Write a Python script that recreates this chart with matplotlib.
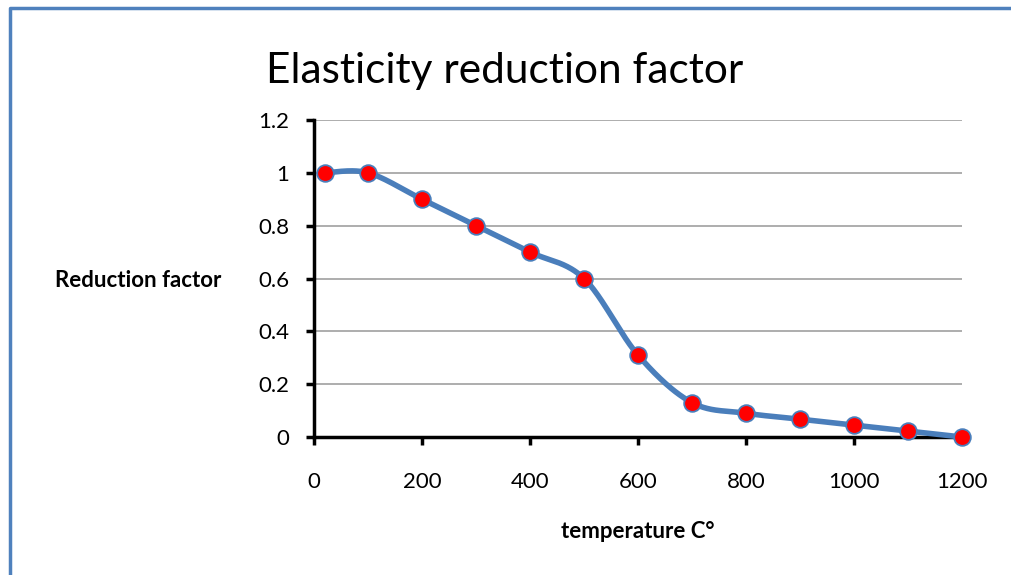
import matplotlib
matplotlib.use('Agg')
import matplotlib.pyplot as plt
import numpy as np

plt.rcParams['font.family'] = ['Lato', 'DejaVu Sans']

# data
temperature = [20, 100, 200, 300, 400, 500, 600, 700, 800, 900, 1000, 1100, 1200]
reduction = [1.0, 1.0, 0.9, 0.8, 0.7, 0.6, 0.31, 0.13, 0.09, 0.0675, 0.045, 0.0225, 0.0]
x_ticks = [0, 200, 400, 600, 800, 1000, 1200]
y_ticks = [0, 0.2, 0.4, 0.6, 0.8, 1.0, 1.2]
y_tick_labels = ['0', '0.2', '0.4', '0.6', '0.8', '1', '1.2']

LINE_BLUE = '#4A7EBB'
FRAME_BLUE = '#4F81BD'


# -----------------------------------------------------------------------------
# Excel-like smoothed line (Catmull-Rom through the points, in screen-ish units)
# -----------------------------------------------------------------------------
def smooth(xs, ys, sx, sy, n=40):
    p = np.column_stack([np.asarray(xs) / sx, np.asarray(ys) / sy])
    p = np.vstack([p[0], p, p[-1]])
    out = []
    for i in range(1, len(p) - 2):
        p0, p1, p2, p3 = p[i - 1], p[i], p[i + 1], p[i + 2]
        c1 = p1 + (p2 - p0) / 6.
        c2 = p2 - (p3 - p1) / 6.
        t = np.linspace(0, 1, n)[:, None]
        seg = ((1 - t) ** 3) * p1 + 3 * ((1 - t) ** 2) * t * c1 + 3 * (1 - t) * t ** 2 * c2 + t ** 3 * p2
        out.append(seg)
    out = np.vstack(out)
    return out[:, 0] * sx, out[:, 1] * sy


fig = plt.figure(figsize=(10.12, 5.75), dpi=100)
ax = fig.add_axes([0.3103, 0.2400, 0.6403, 0.5513])

# pixel scale of the axes: 648 px for 1200, 317 px for 1.2
sx, sy = 1200 / 648., 1.2 / 317.
xs, ys = smooth(temperature, reduction, sx, sy)
ax.plot(xs, ys, color=LINE_BLUE, lw=4, solid_capstyle='round', zorder=3, clip_on=False)
ax.plot(temperature, reduction, ls='none', marker='o', ms=12, mfc='#FF0000',
        mec=LINE_BLUE, mew=1.3, zorder=4, clip_on=False)

ax.set_xlim(0, 1200)
ax.set_ylim(0, 1.2)
ax.set_xticks(x_ticks)
ax.set_yticks(y_ticks)
ax.set_yticklabels(y_tick_labels)
ax.yaxis.grid(True, color='#A0A0A0', lw=1.2)
ax.set_axisbelow(True)
for s in ['top', 'right']:
    ax.spines[s].set_visible(False)
for s in ['left', 'bottom']:
    ax.spines[s].set_linewidth(2.5)
ax.tick_params(axis='both', direction='out', length=6, width=2.5, labelsize=16)
ax.tick_params(axis='x', pad=19)
ax.tick_params(axis='y', pad=12)

fig.text(0.4985, 0.8557, 'Elasticity reduction factor', ha='center', va='baseline', fontsize=30.5)
fig.text(0.137, 0.513, 'Reduction factor', ha='center', va='center', fontsize=16, fontweight='bold')
fig.text(0.630, 0.075, 'temperature C°', ha='center', va='center', fontsize=16, fontweight='bold')

# chart frame (only left/top edges show in the crop)
fig.add_artist(plt.Line2D([0.0095, 0.0095, 1.0], [0.0, 0.9855, 0.9855],
                          transform=fig.transFigure, color=FRAME_BLUE, lw=2.5))

fig.savefig('out.png', dpi=100)
